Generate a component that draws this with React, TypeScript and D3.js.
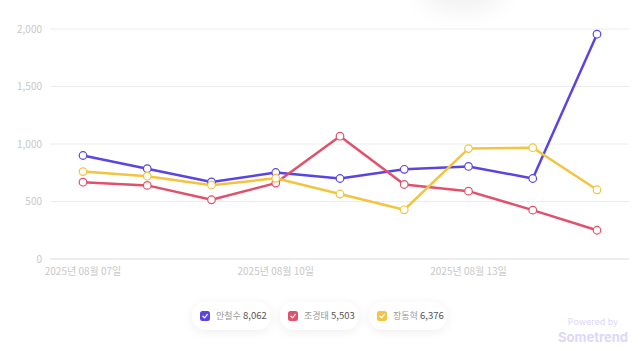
import React from "react";
import * as d3 from "d3";

const dates = [
  "2025-08-07", "2025-08-08", "2025-08-09", "2025-08-10", "2025-08-11",
  "2025-08-12", "2025-08-13", "2025-08-14", "2025-08-15",
];
const xTickDates = ["2025-08-07", "2025-08-10", "2025-08-13"];
const yTicks = [0, 500, 1000, 1500, 2000];

const ahnValues = [900, 785, 670, 752, 700, 780, 805, 700, 1955];
const choValues = [668, 640, 515, 660, 1068, 648, 590, 425, 250];
const jangValues = [760, 720, 642, 702, 565, 428, 960, 968, 602];

const seriesNames = ["안철수", "조경태", "장동혁"];
const seriesTotals = [8062, 5503, 6376];
const seriesColors = ["#5a45e3", "#e2506b", "#f2c43f"];

const W = 640;
const H = 351;
const margin = { top: 29, right: 11, bottom: 92, left: 50 };

const fmtDate = (s: string) => {
  const [y, m, d] = s.split("-");
  return `${y}년 ${m}월 ${d}일`;
};

const App: React.FC = () => {
  const series = [ahnValues, choValues, jangValues];
  const x = d3
    .scalePoint<string>()
    .domain(dates)
    .range([83, 597]);
  const y = d3
    .scaleLinear()
    .domain([0, 2000])
    .range([H - margin.bottom, margin.top]);
  const line = d3
    .line<number>()
    .x((_, i) => x(dates[i])!)
    .y((d) => y(d));

  const fmt = d3.format(",");
  const pillX = [192, 280, 369];
  const pillW = [79, 79, 78];

  return (
    <svg
      width={W}
      height={H}
      style={{ position: "fixed", left: 0, top: 0, fontFamily: "'Noto Sans CJK KR', 'Noto Sans', sans-serif" }}
    >
      <defs>
        <filter id="blur" x="-50%" y="-50%" width="200%" height="200%">
          <feGaussianBlur stdDeviation="12" />
        </filter>
        <filter id="pillShadow" x="-30%" y="-60%" width="160%" height="220%">
          <feDropShadow dx="0" dy="2" stdDeviation="5" floodColor="#000" floodOpacity="0.07" />
        </filter>
      </defs>
      <rect width={W} height={H} fill="#fff" />
      <ellipse cx={462} cy={-6} rx={42} ry={16} fill="#000" opacity={0.06} filter="url(#blur)" />

      {yTicks.map((t) => (
        <g key={t}>
          <line
            x1={margin.left}
            x2={W - margin.right}
            y1={y(t)}
            y2={y(t)}
            stroke={t === 0 ? "#dcdcdc" : "#ececec"}
            strokeWidth={1}
          />
          <text
            x={42}
            y={y(t)}
            dy="0.35em"
            textAnchor="end"
            fontSize={10}
            fill="#c8c8c8"
          >
            {fmt(t)}
          </text>
        </g>
      ))}

      {xTickDates.map((d) => (
        <text
          key={d}
          x={x(d)!}
          y={275}
          textAnchor="middle"
          fontSize={10}
          fill="#c8c8c8"
        >
          {fmtDate(d)}
        </text>
      ))}

      {series.map((vals, si) => (
        <path
          key={si}
          d={line(vals) || ""}
          fill="none"
          stroke={seriesColors[si]}
          strokeWidth={2.5}
          strokeLinejoin="round"
        />
      ))}
      {series.map((vals, si) =>
        vals.map((v, i) => (
          <circle
            key={`${si}-${i}`}
            cx={x(dates[i])!}
            cy={y(v)}
            r={3.8}
            fill="#fff"
            stroke={seriesColors[si]}
            strokeWidth={1.2}
          />
        ))
      )}

      {seriesNames.map((name, i) => (
        <g key={name} transform={`translate(${pillX[i]},302)`}>
          <rect
            width={pillW[i]}
            height={28}
            rx={14}
            fill="#fff"
            filter="url(#pillShadow)"
          />
          <rect x={8} y={9} width={10} height={10} rx={2.5} fill={seriesColors[i]} />
          <path
            d="M10.8 14.2 L12.6 15.8 L15.4 12.4"
            fill="none"
            stroke="#fff"
            strokeWidth={1.2}
            strokeLinecap="round"
            strokeLinejoin="round"
          />
          <text x={24} y={14} dy="0.35em" fontSize={9} fill="#999">
            {name}
          </text>
          <text x={51} y={14} dy="0.35em" fontSize={9.5} fill="#555">
            {fmt(seriesTotals[i])}
          </text>
        </g>
      ))}

      <text x={593} y={325} textAnchor="middle" fontSize={9} fill="#dcd8fa" fontFamily="Inter, sans-serif">
        Powered by
      </text>
      <text x={593} y={342} textAnchor="middle" fontSize={13} fontWeight="bold" fill="#dcd8fa" fontFamily="Inter, sans-serif">
        Sometrend
      </text>
    </svg>
  );
};

export default App;
